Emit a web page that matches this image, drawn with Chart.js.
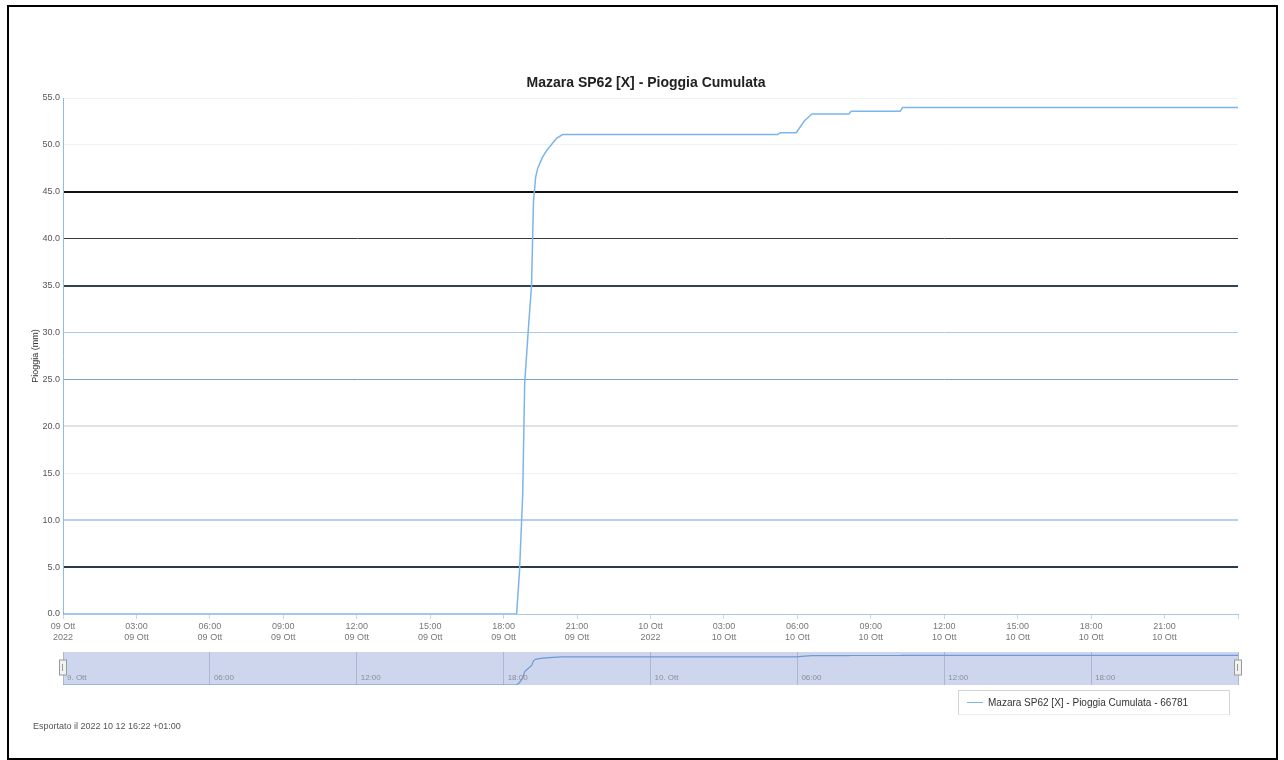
<!DOCTYPE html>
<html>
<head>
<meta charset="utf-8">
<script src="https://cdn.jsdelivr.net/npm/chart.js@4.4.0/dist/chart.umd.min.js"></script>
<style>
  body { margin: 0; background: #fff; font-family: "Liberation Sans", Arial, sans-serif; }
  #wrap { position: relative; width: 1284px; height: 760px; overflow: hidden; }
  canvas { position: absolute; left: 0; top: 0; }
  #frame { position: absolute; left: 7px; top: 5px; width: 1267px; height: 751px; border: 2px solid #000; }
  #title { position: absolute; left: 0; width: 1292px; top: 74px; text-align: center; font-size: 14px; font-weight: bold; color: #222; }
  #legend { position: absolute; left: 958px; top: 690px; width: 272px; height: 25px; border: 1px solid #d4d4d4; border-bottom-color: #eee; box-sizing: border-box; font-size: 10px; color: #333; }
  #legend .swatch { position: absolute; left: 8px; top: 11px; width: 16px; height: 0; border-top: 1.5px solid #7cb5ec; }
  #legend .txt { position: absolute; left: 29px; top: 6px; white-space: nowrap; }
  #footer { position: absolute; left: 33px; top: 721px; font-size: 9px; color: #555; }
</style>
</head>
<body>
<div id="wrap">
  <div id="frame"></div>
  <canvas id="mainChart" width="1284" height="760"></canvas>
  <canvas id="navChart" width="1284" height="760"></canvas>
  <div id="title">Mazara SP62 [X] - Pioggia Cumulata</div>
  <div id="legend"><span class="swatch"></span><span class="txt">Mazara SP62 [X] - Pioggia Cumulata - 66781</span></div>
  <div id="footer">Esportato il 2022 10 12 16:22 +01:00</div>
</div>
<script>
// Ore dall'inizio del 09 Ott 2022 00:00
const ore = [0, 18.53, 18.65, 18.78, 18.86, 19.0, 19.14, 19.22, 19.31, 19.39, 19.59, 19.76, 20.16, 20.41,
             29.2, 29.3, 29.95, 30.3, 30.6, 32.1, 32.2, 34.2, 34.3, 48];
// Pioggia cumulata (mm)
const pioggia = [0, 0, 4.6, 12.8, 24.6, 30.0, 35.0, 44.0, 46.6, 47.5, 48.7, 49.4, 50.7, 51.1,
                 51.1, 51.3, 51.3, 52.6, 53.3, 53.3, 53.6, 53.6, 54.0, 54.0];

// Etichette asse x (ogni 3 ore)
const etichetteX = [
  ['09 Ott', '2022'], ['03:00', '09 Ott'], ['06:00', '09 Ott'], ['09:00', '09 Ott'],
  ['12:00', '09 Ott'], ['15:00', '09 Ott'], ['18:00', '09 Ott'], ['21:00', '09 Ott'],
  ['10 Ott', '2022'], ['03:00', '10 Ott'], ['06:00', '10 Ott'], ['09:00', '10 Ott'],
  ['12:00', '10 Ott'], ['15:00', '10 Ott'], ['18:00', '10 Ott'], ['21:00', '10 Ott']
];
// Etichette navigatore (ogni 6 ore)
const etichetteNav = ['9. Ott', '06:00', '12:00', '18:00', '10. Ott', '06:00', '12:00', '18:00'];

const punti = ore.map((t, i) => ({ x: t, y: pioggia[i] }));

Chart.defaults.font.family = '"Liberation Sans", Arial, sans-serif';

// stile delle linee di griglia orizzontali (come nello scan)
const stileGriglia = {
  0: ['#a8c8ec', 1], 5: ['#2b3b4c', 2], 10: ['#b3d0f0', 2], 15: ['#eaf0f7', 1],
  20: ['#e2e2e2', 2], 25: ['#7f9fc4', 1], 30: ['#a9cbef', 1], 35: ['#304357', 2],
  40: ['#3a3a3a', 1], 45: ['#111111', 2], 50: ['#f2f2f2', 1], 55: ['#f2f2f2', 1]
};

// Grafico principale
const mainChart = new Chart(document.getElementById('mainChart'), {
  type: 'line',
  data: {
    datasets: [{
      label: 'Mazara SP62 [X] - Pioggia Cumulata - 66781',
      data: punti,
      borderColor: '#7cb5ec',
      borderWidth: 1.5,
      pointRadius: 0,
      tension: 0,
      fill: false
    }]
  },
  options: {
    responsive: false,
    animation: false,
    layout: { padding: { left: 28, right: 46, top: 98, bottom: 116 } },
    plugins: { legend: { display: false }, tooltip: { enabled: false } },
    scales: {
      x: {
        type: 'linear',
        min: 0,
        max: 48,
        afterFit: s => { s.height = 30; },
        ticks: {
          stepSize: 3,
          autoSkip: false,
          maxRotation: 0,
          font: { size: 9 },
          color: '#777',
          padding: 2,
          callback: (v, i) => etichetteX[i] || ''
        },
        grid: { drawOnChartArea: false, tickLength: 5, color: '#ccd6eb' },
        border: { color: '#a8c8ec' }
      },
      y: {
        min: 0,
        max: 55,
        afterFit: s => { s.width = 35; },
        ticks: {
          stepSize: 5,
          font: { size: 9 },
          color: '#555',
          padding: 3,
          callback: v => v.toFixed(1)
        },
        grid: {
          drawTicks: false,
          color: ctx => (stileGriglia[ctx.tick && ctx.tick.value] || ['#eee', 1])[0],
          lineWidth: ctx => (stileGriglia[ctx.tick && ctx.tick.value] || ['#eee', 1])[1]
        },
        border: { color: '#8fbbe8' },
        title: { display: true, text: 'Pioggia (mm)', font: { size: 9 }, color: '#333', padding: { top: 2, bottom: 0 } }
      }
    }
  }
});

// Navigatore
const navPlugin = {
  id: 'navDeco',
  beforeDraw(chart) {
    const a = chart.chartArea, c = chart.ctx;
    c.save();
    c.fillStyle = '#cdd6ec';
    c.fillRect(a.left, a.top, a.right - a.left, a.bottom - a.top);
    c.restore();
  },
  afterDraw(chart) {
    const a = chart.chartArea, c = chart.ctx, sx = chart.scales.x;
    c.save();
    c.font = '8px "Liberation Sans", Arial, sans-serif';
    c.fillStyle = '#8a8f99';
    c.textBaseline = 'alphabetic';
    etichetteNav.forEach((t, i) => {
      c.fillText(t, sx.getPixelForValue(i * 6) + 4, a.bottom - 5);
    });
    // maniglie
    [a.left, a.right].forEach(x => {
      c.fillStyle = '#f2f2f2';
      c.strokeStyle = '#999';
      c.lineWidth = 1;
      c.fillRect(x - 3.5, a.top + 8, 7, 15);
      c.strokeRect(x - 3.5, a.top + 8, 7, 15);
      c.beginPath();
      c.moveTo(x - 0.5, a.top + 12);
      c.lineTo(x - 0.5, a.top + 19);
      c.stroke();
    });
    c.restore();
  }
};

const navChart = new Chart(document.getElementById('navChart'), {
  type: 'line',
  data: {
    datasets: [{
      data: punti,
      borderColor: '#6f98d6',
      borderWidth: 1.2,
      pointRadius: 0,
      fill: false
    }]
  },
  options: {
    responsive: false,
    animation: false,
    layout: { padding: { left: 63, right: 46, top: 652, bottom: 75 } },
    plugins: { legend: { display: false }, tooltip: { enabled: false } },
    scales: {
      x: {
        type: 'linear',
        min: 0,
        max: 48,
        afterFit: s => { s.height = 0; },
        ticks: { stepSize: 6, display: false },
        grid: { color: '#aab6d2', drawTicks: false },
        border: { display: false }
      },
      y: { display: false, min: 0, max: 60 }
    }
  },
  plugins: [navPlugin]
});
</script>
</body>
</html>
